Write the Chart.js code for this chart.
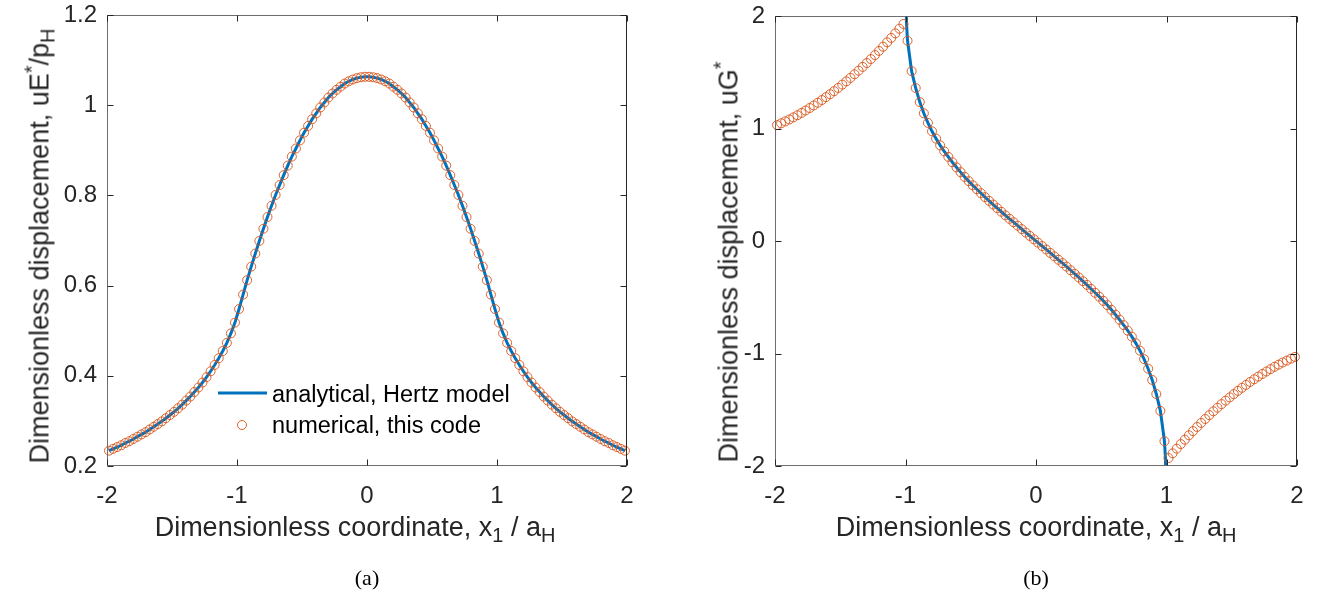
<!DOCTYPE html>
<html>
<head>
<meta charset="utf-8">
<script src="https://cdn.jsdelivr.net/npm/chart.js@4.4.1/dist/chart.umd.min.js"></script>
<style>
  html, body { margin: 0; padding: 0; background: #fff; }
  #wrap { position: relative; width: 1322px; height: 595px; overflow: hidden;
          font-family: 'Liberation Sans', Arial, sans-serif; color: #262626; }
  canvas { position: absolute; top: 0; }
  .xt { position: absolute; font-size: 27px; white-space: nowrap; transform: translateX(-50%); }
  .yt { position: absolute; font-size: 27px; white-space: nowrap;
        transform: translate(-50%, -50%) rotate(-90deg); }
  .xt sub, .yt sub, .yt sup { font-size: 74%; line-height: 0; }
  .cap { position: absolute; font-family: 'Liberation Serif', 'Times New Roman', serif;
         font-size: 22px; color: #000; transform: translateX(-50%); }
</style>
</head>
<body>
<div id="wrap">
  <canvas id="chartA" width="660" height="595" style="left:0"></canvas>
  <canvas id="chartB" width="662" height="595" style="left:660px"></canvas>
  <div class="yt" style="left:40px; top:246px">Dimensionless displacement, uE<sup>*</sup>/p<sub>H</sub></div>
  <div class="yt" style="left:729px; top:262px">Dimensionless displacement, uG<sup>*</sup></div>
  <div class="xt" style="left:355px; top:512px">Dimensionless coordinate, x<sub>1</sub> / a<sub>H</sub></div>
  <div class="xt" style="left:1036px; top:512px">Dimensionless coordinate, x<sub>1</sub> / a<sub>H</sub></div>
  <div class="cap" style="left:367px; top:565px">(a)</div>
  <div class="cap" style="left:1036px; top:565px">(b)</div>
</div>
<script>
// grid points (cell centres, step 1/32)
const xGrid = [-1.9844,-1.9531,-1.9219,-1.8906,-1.8594,-1.8281,-1.7969,-1.7656,-1.7344,-1.7031,-1.6719,-1.6406,-1.6094,-1.5781,-1.5469,-1.5156,
  -1.4844,-1.4531,-1.4219,-1.3906,-1.3594,-1.3281,-1.2969,-1.2656,-1.2344,-1.2031,-1.1719,-1.1406,-1.1094,-1.0781,-1.0469,-1.0156,
  -0.9844,-0.9531,-0.9219,-0.8906,-0.8594,-0.8281,-0.7969,-0.7656,-0.7344,-0.7031,-0.6719,-0.6406,-0.6094,-0.5781,-0.5469,-0.5156,
  -0.4844,-0.4531,-0.4219,-0.3906,-0.3594,-0.3281,-0.2969,-0.2656,-0.2344,-0.2031,-0.1719,-0.1406,-0.1094,-0.0781,-0.0469,-0.0156,
  0.0156,0.0469,0.0781,0.1094,0.1406,0.1719,0.2031,0.2344,0.2656,0.2969,0.3281,0.3594,0.3906,0.4219,0.4531,0.4844,
  0.5156,0.5469,0.5781,0.6094,0.6406,0.6719,0.7031,0.7344,0.7656,0.7969,0.8281,0.8594,0.8906,0.9219,0.9531,0.9844,
  1.0156,1.0469,1.0781,1.1094,1.1406,1.1719,1.2031,1.2344,1.2656,1.2969,1.3281,1.3594,1.3906,1.4219,1.4531,1.4844,
  1.5156,1.5469,1.5781,1.6094,1.6406,1.6719,1.7031,1.7344,1.7656,1.7969,1.8281,1.8594,1.8906,1.9219,1.9531,1.9844];

// (a) normal displacement uE*/pH
const dispA = [0.234,0.238,0.242,0.246,0.251,0.255,0.260,0.265,0.270,0.275,0.281,0.287,0.293,0.299,0.306,0.313,
  0.320,0.328,0.336,0.345,0.354,0.364,0.374,0.385,0.397,0.410,0.424,0.439,0.455,0.473,0.494,0.518,
  0.548,0.580,0.612,0.642,0.671,0.699,0.726,0.752,0.777,0.801,0.823,0.845,0.866,0.886,0.904,0.922,
  0.939,0.954,0.969,0.982,0.995,1.006,1.017,1.026,1.034,1.041,1.048,1.053,1.057,1.060,1.062,1.063,
  1.063,1.062,1.060,1.057,1.053,1.048,1.041,1.034,1.026,1.017,1.006,0.995,0.982,0.969,0.954,0.939,
  0.922,0.904,0.886,0.866,0.845,0.823,0.801,0.777,0.752,0.726,0.699,0.671,0.642,0.612,0.580,0.548,
  0.518,0.494,0.473,0.455,0.439,0.424,0.410,0.397,0.385,0.374,0.364,0.354,0.345,0.336,0.328,0.320,
  0.313,0.306,0.299,0.293,0.287,0.281,0.275,0.270,0.265,0.260,0.255,0.251,0.246,0.242,0.238,0.234];

// (b) numerical displacement uG*
const dispB = [1.030,1.046,1.063,1.080,1.099,1.118,1.139,1.160,1.182,1.205,1.229,1.253,1.279,1.305,1.332,1.361,
  1.390,1.419,1.450,1.482,1.514,1.548,1.582,1.617,1.653,1.690,1.727,1.766,1.805,1.846,1.887,1.929,
  1.78,1.51,1.36,1.235,1.135,1.05,0.975,0.91,0.85,0.797,0.748,0.70,0.655,0.612,0.570,0.532,
  0.495,0.460,0.425,0.390,0.357,0.324,0.292,0.260,0.228,0.197,0.167,0.136,0.106,0.075,0.045,0.015,
  -0.015,-0.045,-0.075,-0.106,-0.136,-0.167,-0.197,-0.228,-0.260,-0.292,-0.324,-0.357,-0.390,-0.425,-0.460,-0.495,
  -0.532,-0.570,-0.612,-0.655,-0.70,-0.748,-0.797,-0.85,-0.91,-0.975,-1.05,-1.135,-1.235,-1.36,-1.51,-1.78,
  -1.929,-1.887,-1.846,-1.805,-1.766,-1.727,-1.690,-1.653,-1.617,-1.582,-1.548,-1.514,-1.482,-1.450,-1.419,-1.390,
  -1.361,-1.332,-1.305,-1.279,-1.253,-1.229,-1.205,-1.182,-1.160,-1.139,-1.118,-1.099,-1.080,-1.063,-1.046,-1.030];

// (b) analytical curve, only inside the contact
const lineBX = [-0.9999,-0.998,-0.992,
  -0.9844,-0.9531,-0.9219,-0.8906,-0.8594,-0.8281,-0.7969,-0.7656,-0.7344,-0.7031,-0.6719,-0.6406,-0.6094,-0.5781,-0.5469,-0.5156,
  -0.4844,-0.4531,-0.4219,-0.3906,-0.3594,-0.3281,-0.2969,-0.2656,-0.2344,-0.2031,-0.1719,-0.1406,-0.1094,-0.0781,-0.0469,-0.0156,
  0.0156,0.0469,0.0781,0.1094,0.1406,0.1719,0.2031,0.2344,0.2656,0.2969,0.3281,0.3594,0.3906,0.4219,0.4531,0.4844,
  0.5156,0.5469,0.5781,0.6094,0.6406,0.6719,0.7031,0.7344,0.7656,0.7969,0.8281,0.8594,0.8906,0.9219,0.9531,0.9844,
  0.992,0.998,0.9999];
const lineBY = [3.2,2.3,1.93,
  1.78,1.51,1.36,1.235,1.135,1.05,0.975,0.91,0.85,0.797,0.748,0.70,0.655,0.612,0.570,0.532,
  0.495,0.460,0.425,0.390,0.357,0.324,0.292,0.260,0.228,0.197,0.167,0.136,0.106,0.075,0.045,0.015,
  -0.015,-0.045,-0.075,-0.106,-0.136,-0.167,-0.197,-0.228,-0.260,-0.292,-0.324,-0.357,-0.390,-0.425,-0.460,-0.495,
  -0.532,-0.570,-0.612,-0.655,-0.70,-0.748,-0.797,-0.85,-0.91,-0.975,-1.05,-1.135,-1.235,-1.36,-1.51,-1.78,
  -1.93,-2.3,-3.2];

const xTicks = [-2, -1, 0, 1, 2];
const yTicksA = [0.2, 0.4, 0.6, 0.8, 1, 1.2];
const yTicksB = [-2, -1, 0, 1, 2];
const legendLabels = ['analytical, Hertz model', 'numerical, this code'];

const BLUE = '#0072BD';
const ORANGE = '#D95319';
const AXIS = '#262626';
const FONT = "'Liberation Sans', Arial, sans-serif";

function pts(xs, ys) {
  return xs.map((x, i) => ({ x: x, y: ys[i] }));
}

// box round the axes with inward ticks on all four sides
const boxPlugin = {
  id: 'box',
  afterDraw(chart) {
    const ctx = chart.ctx;
    const a = chart.chartArea;
    const sx = chart.scales.x, sy = chart.scales.y;
    const L = Math.round(a.left) + 0.5, R = Math.round(a.right) - 0.5;
    const T = Math.round(a.top) + 0.5, B = Math.round(a.bottom) - 0.5;
    ctx.save();
    ctx.lineWidth = 1;
    ctx.strokeStyle = '#6e6e6e';
    ctx.beginPath();
    ctx.moveTo(L, T); ctx.lineTo(R, T);
    ctx.moveTo(L, T); ctx.lineTo(L, B); ctx.lineTo(R, B);
    ctx.stroke();
    ctx.strokeStyle = AXIS;
    ctx.beginPath();
    ctx.moveTo(R, T - 0.5); ctx.lineTo(R, B + 0.5);
    sx.ticks.forEach(t => {
      const px = Math.round(sx.getPixelForValue(t.value)) + 0.5;
      ctx.moveTo(px, B); ctx.lineTo(px, B - 6);
      ctx.moveTo(px, T); ctx.lineTo(px, T + 6);
    });
    sy.ticks.forEach(t => {
      const py = Math.round(sy.getPixelForValue(t.value)) + 0.5;
      ctx.moveTo(L, py); ctx.lineTo(L + 6, py);
      ctx.moveTo(R, py); ctx.lineTo(R - 6, py);
    });
    ctx.stroke();
    ctx.restore();
  }
};

const legendPlugin = {
  id: 'legendA',
  afterDraw(chart) {
    if (chart.canvas.id !== 'chartA') return;
    const ctx = chart.ctx;
    const a = chart.chartArea;
    const x0 = a.left + 111, y0 = a.top + 378;
    ctx.save();
    ctx.strokeStyle = BLUE;
    ctx.lineWidth = 3;
    ctx.beginPath(); ctx.moveTo(x0, y0); ctx.lineTo(x0 + 49, y0); ctx.stroke();
    ctx.strokeStyle = ORANGE;
    ctx.lineWidth = 0.9;
    ctx.beginPath(); ctx.arc(x0 + 24, y0 + 32, 4.5, 0, 2 * Math.PI); ctx.stroke();
    ctx.fillStyle = '#000';
    ctx.font = '23.5px ' + FONT;
    ctx.textBaseline = 'alphabetic';
    ctx.fillText(legendLabels[0], x0 + 54, y0 + 8.5);
    ctx.fillText(legendLabels[1], x0 + 54, y0 + 40);
    ctx.restore();
  }
};

function makeChart(id, cfg) {
  const H = 595;
  return new Chart(document.getElementById(id), {
    type: 'scatter',
    data: {
      datasets: [
        {
          data: pts(xGrid, cfg.values),
          showLine: false,
          pointStyle: 'circle',
          pointRadius: 4.5,
          pointHoverRadius: 4.5,
          pointBorderWidth: 0.9,
          pointBorderColor: ORANGE,
          pointBackgroundColor: 'rgba(0,0,0,0)',
          clip: false
        },
        {
          data: cfg.line,
          showLine: true,
          borderColor: BLUE,
          borderWidth: 3,
          pointRadius: 0,
          tension: 0,
          clip: 0
        }
      ]
    },
    options: {
      responsive: false,
      animation: false,
      devicePixelRatio: 1,
      layout: { padding: { left: 0, top: cfg.top, right: cfg.width - cfg.right, bottom: 0 } },
      plugins: { legend: { display: false }, tooltip: { enabled: false } },
      scales: {
        x: {
          type: 'linear', min: -2, max: 2,
          afterBuildTicks: s => { s.ticks = xTicks.map(v => ({ value: v })); },
          afterFit: s => { s.height = H - cfg.bottom; s.paddingLeft = 0; s.paddingRight = 0; },
          grid: { display: false, drawTicks: false },
          border: { display: false },
          ticks: { color: AXIS, font: { family: FONT, size: 24 }, padding: 16, maxRotation: 0, autoSkip: false,
                   callback: v => String(v) }
        },
        y: {
          type: 'linear', min: cfg.ymin, max: cfg.ymax,
          afterBuildTicks: s => { s.ticks = cfg.yTicks.map(v => ({ value: v })); },
          afterFit: s => { s.width = cfg.left; s.paddingTop = 0; s.paddingBottom = 0; },
          grid: { display: false, drawTicks: false },
          border: { display: false },
          ticks: { color: AXIS, font: { family: FONT, size: 24 }, padding: 10, autoSkip: false,
                   callback: v => String(v) }
        }
      }
    },
    plugins: [boxPlugin, legendPlugin]
  });
}

makeChart('chartA', {
  values: dispA, line: pts(xGrid, dispA), yTicks: yTicksA, ymin: 0.2, ymax: 1.2,
  width: 660, left: 107, right: 627, top: 15, bottom: 466
});
makeChart('chartB', {
  values: dispB, line: pts(lineBX, lineBY), yTicks: yTicksB, ymin: -2, ymax: 2,
  width: 662, left: 115, right: 637, top: 16, bottom: 466
});
</script>
</body>
</html>
